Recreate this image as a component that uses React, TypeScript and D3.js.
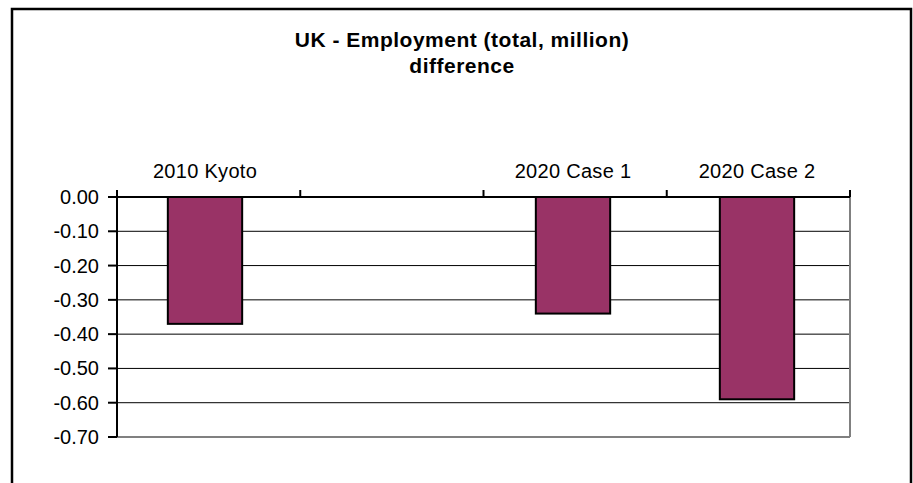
import React from "react";
import * as d3 from "d3";

const categories: string[] = ["2010 Kyoto", "", "2020 Case 1", "2020 Case 2"];
const values: (number | null)[] = [-0.37, null, -0.34, -0.59];
const yTicks: number[] = [0, -0.1, -0.2, -0.3, -0.4, -0.5, -0.6, -0.7];
const titleLines: string[] = ["UK - Employment (total, million)", "difference"];

const W = 913;
const H = 483;
const left = 117;
const right = 850;
const top = 197;
const bottom = 437;

export default function App() {
  const x = d3
    .scaleBand<string>()
    .domain(categories)
    .range([left - 4, right - 1])
    .paddingInner(0.596)
    .paddingOuter(0.298);
  const y = d3.scaleLinear().domain([0, -0.7]).range([top, bottom]);
  const boundaries = d3.range(categories.length + 1).map((i) => left + i * (right - left) / categories.length);
  const font = "'Liberation Sans', Arial, sans-serif";

  return (
    <svg width={W} height={H} style={{ position: "absolute", left: 0, top: 0 }}>
      <rect x={0} y={0} width={W} height={H} fill="#fff" />
      <rect x={12} y={9} width={899} height={H} fill="none" stroke="#000" strokeWidth={2.5} />
      {titleLines.map((t, i) => (
        <text key={i} x={462} y={47 + i * 26} textAnchor="middle" fontFamily={font} fontWeight="bold" fontSize={21} letterSpacing={0.5}>
          {t}
        </text>
      ))}
      {yTicks.slice(1, -1).map((v) => (
        <line key={v} x1={left} x2={right} y1={y(v)} y2={y(v)} stroke="#000" strokeWidth={1} />
      ))}
      <line x1={right} x2={right} y1={top} y2={bottom} stroke="#808080" strokeWidth={2} />
      <line x1={left} x2={right} y1={bottom} y2={bottom} stroke="#808080" strokeWidth={2} />
      {categories.map((c, i) => {
        const v = values[i];
        if (v === null) return null;
        return (
          <rect
            key={c + i}
            x={x(c)!}
            y={y(0)}
            width={x.bandwidth()}
            height={y(v) - y(0)}
            fill="#993366"
            stroke="#000"
            strokeWidth={2}
          />
        );
      })}
      <line x1={left} x2={right} y1={top} y2={top} stroke="#000" strokeWidth={2} />
      {boundaries.map((b, i) => (
        <line key={i} x1={b} x2={b} y1={top - 7} y2={top} stroke="#000" strokeWidth={2} />
      ))}
      {categories.map((c, i) => (
        <text
          key={i}
          x={x(c)! + x.bandwidth() / 2}
          y={178}
          textAnchor="middle"
          fontFamily={font}
          fontSize={20}
          letterSpacing={0.3}
        >
          {c}
        </text>
      ))}
      <line x1={left} x2={left} y1={top} y2={bottom} stroke="#000" strokeWidth={2} />
      {yTicks.map((v) => (
        <g key={v}>
          <line x1={left - 9} x2={left} y1={y(v)} y2={y(v)} stroke="#000" strokeWidth={2} />
          <text x={99} y={y(v) + 7} textAnchor="end" fontFamily={font} fontSize={20}>
            {d3.format(".2f")(v).replace("−", "-")}
          </text>
        </g>
      ))}
    </svg>
  );
}
